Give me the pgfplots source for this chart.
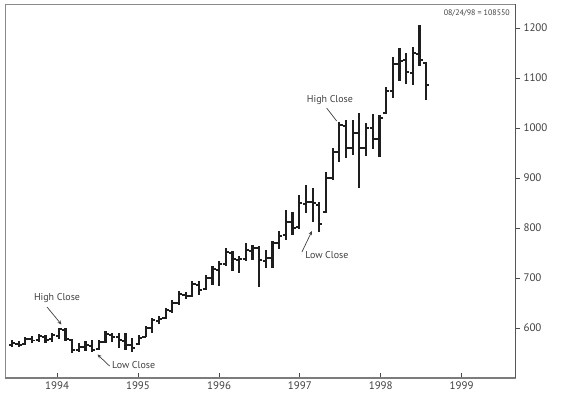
\documentclass[border=0pt]{standalone}
\usepackage{pgfplots}
\pgfplotsset{compat=1.18}
\usepackage{pgfplotstable}
\usetikzlibrary{arrows.meta,calc}
\usepackage{fontspec}
\setmainfont{PT Sans}
\definecolor{barc}{HTML}{1E1E1E}
\definecolor{txt}{HTML}{404040}
\definecolor{frame}{HTML}{8A8A8A}
\pgfdeclareplotmark{ohlcopen}{\pgfpathmoveto{\pgfpoint{-3.2bp}{0pt}}\pgfpathlineto{\pgfpoint{0pt}{0pt}}\pgfusepathqstroke}
\pgfdeclareplotmark{ohlcclose}{\pgfpathmoveto{\pgfpoint{0pt}{0pt}}\pgfpathlineto{\pgfpoint{3.2bp}{0pt}}\pgfusepathqstroke}
\pgfplotstableread{
i o h l c
0 566 576 562 570
1 568 574 562 566
2 568 582 566 578
3 578 584 570 575
4 576 588 572 584
5 582 586 570 576
6 578 590 572 586
7 584 600 578 598
8 596 600 574 578
9 576 578 550 556
10 556 570 552 562
11 562 574 554 566
12 564 576 552 556
13 558 576 556 572
14 572 594 570 588
15 586 590 572 582
16 582 590 560 576
17 574 590 556 566
18 566 580 552 560
19 568 586 566 580
20 582 604 582 600
21 600 620 590 616
22 614 624 608 618
23 620 640 618 636
24 634 656 630 650
25 650 674 646 668
26 666 672 658 664
27 664 694 662 688
28 686 694 666 676
29 678 706 676 700
30 700 724 686 718
31 716 734 684 728
32 728 760 724 752
33 750 754 714 738
34 736 744 710 738
35 738 770 734 756
36 754 766 736 760
37 760 764 682 736
38 734 756 720 740
39 740 774 720 770
40 770 794 758 784
41 786 836 776 812
42 812 832 786 800
43 802 866 798 850
44 848 886 830 852
45 852 880 812 850
46 846 852 792 808
47 832 912 830 900
48 900 960 896 952
49 952 1012 932 1006
50 1004 1016 940 960
51 960 1016 946 990
52 990 1030 880 960
53 960 1010 944 1000
54 1000 1028 958 978
55 978 1026 942 1020
56 1030 1082 1028 1074
57 1074 1142 1060 1128
58 1128 1160 1094 1134
59 1136 1150 1088 1112
60 1110 1162 1086 1150
61 1148 1206 1124 1136
62 1130 1132 1056 1086
}\ohlc
\begin{document}
\begin{tikzpicture}
\useasboundingbox (-5bp,-24bp) rectangle (567bp,378bp);
\begin{axis}[
  scale only axis, width=510bp, height=374bp,
  xmin=-1.05, xmax=75.3, ymin=500, ymax=1248,
  axis line style={draw=frame, line width=0.6bp},
  xtick={6.74,18.86,31.0,43.1,55.2,67.3},
  xticklabels={1994,1995,1996,1997,1998,1999},
  xtick pos=bottom, xtick align=inside,
  ytick={600,700,800,900,1000,1100,1200},
  ytick pos=right, yticklabel pos=right, ytick align=outside,
  major tick length=5bp,
  tick style={draw=barc!80, line width=0.9bp},
  minor tick num=0,
  ticklabel style={font=\fontsize{11}{12}\selectfont, text=txt},
  /pgf/number format/assume math mode=true,
  /pgf/number format/set thousands separator={},
  clip=false,
]
\addplot[forget plot, draw=none, mark=none,
  error bars/.cd, y dir=both, y explicit,
  error mark=none,
  error bar style={draw=barc, solid, line width=2.2bp}]
  table[x=i, y=c, y error plus expr=\thisrow{h}-\thisrow{c}, y error minus expr=\thisrow{c}-\thisrow{l}] {\ohlc};
\addplot[only marks, draw=barc, line width=1.7bp, mark=ohlcopen, mark options={solid}] table[x=i, y=o] {\ohlc};
\addplot[only marks, draw=barc, line width=1.7bp, mark=ohlcclose, mark options={solid}] table[x=i, y=c] {\ohlc};
% frame overdraw
\draw[draw=frame!90!black, line width=1.8bp] (rel axis cs:0,0) -- (rel axis cs:1,0);
\draw[draw=barc!75, line width=0.9bp] (rel axis cs:1,0) -- (rel axis cs:1,1);
% annotations
\node[text=txt, font=\fontsize{10}{12}\selectfont] at (axis cs:6.74,660) {High Close};
\draw[barc!85, line width=0.7bp, -{Stealth[length=4bp,width=3.5bp]}] (axis cs:5.24,642) -- (axis cs:7.4,607);
\node[text=txt, font=\fontsize{10}{12}\selectfont, anchor=west, inner sep=0pt] at (axis cs:14.97,526) {Low Close};
\draw[barc!85, line width=0.7bp, -{Stealth[length=4bp,width=3.5bp]}] (axis cs:14.6,524) -- (axis cs:12.8,547);
\node[text=txt, font=\fontsize{10}{12}\selectfont, anchor=west, inner sep=0pt] at (axis cs:43.9,746) {Low Close};
\draw[barc!85, line width=0.7bp, -{Stealth[length=4bp,width=3.5bp]}] (axis cs:43.4,752) -- (axis cs:44.9,794);
\node[text=txt, font=\fontsize{10}{12}\selectfont] at (axis cs:47.6,1056) {High Close};
\draw[barc!85, line width=0.7bp] (axis cs:47.1,1040) -- (axis cs:48.6,1014);
\node[text=txt, font=\fontsize{8}{10}\selectfont, anchor=east, inner sep=0pt] at (axis cs:74.55,1230) {08/24/98 = 108550};
\node[text=txt, font=\fontsize{10}{12}\selectfont, rotate=-90] at ($(rel axis cs:1,0.5)+(45bp,0)$) {Prices};
\end{axis}
\end{tikzpicture}
\end{document}
